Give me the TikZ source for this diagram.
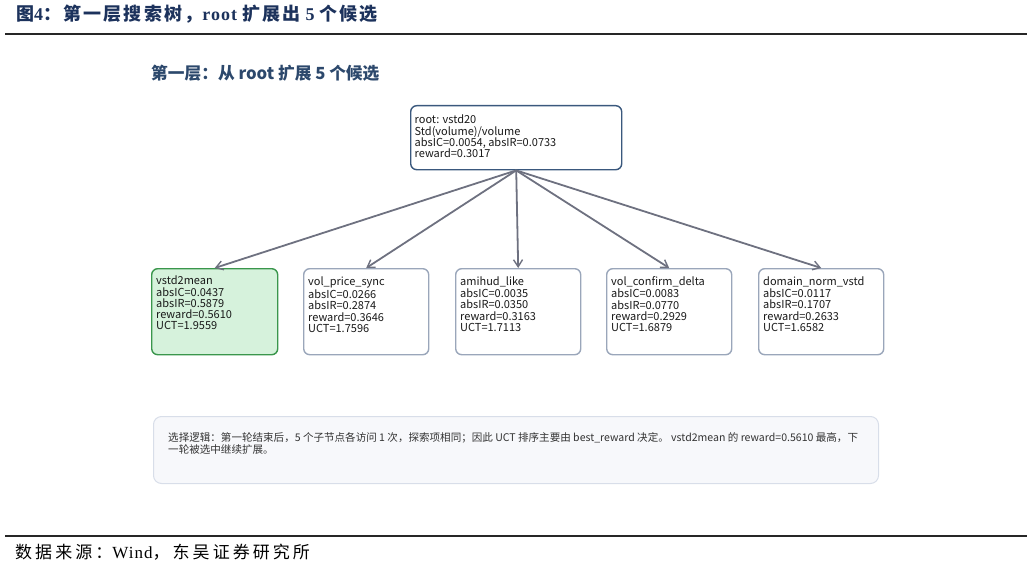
\documentclass[tikz,border=0pt]{standalone}
\usepackage{fontspec}
\setmainfont{Liberation Serif}
\newfontfamily\cjk{Noto Sans CJK SC}
\newfontfamily\cjkls{Noto Sans CJK SC}[LetterSpace=12]
\newfontfamily\cjksrc{Noto Sans CJK SC}[LetterSpace=18]
\newfontfamily\serifls{Liberation Serif}[LetterSpace=6]
\usetikzlibrary{arrows.meta}
\definecolor{titleblue}{RGB}{28,50,92}
\definecolor{subblue}{RGB}{44,72,108}
\definecolor{rootborder}{RGB}{58,88,125}
\definecolor{childborder}{RGB}{154,166,186}
\definecolor{selfill}{RGB}{214,242,220}
\definecolor{selborder}{RGB}{58,150,76}
\definecolor{arrowgray}{RGB}{110,113,128}
\definecolor{notefill}{RGB}{247,248,251}
\definecolor{noteborder}{RGB}{216,222,233}
\definecolor{textdark}{RGB}{25,25,25}
\tikzset{
  box/.style={draw=childborder, line width=1.4pt, fill=white, rounded corners=6pt, anchor=north west, inner sep=0pt},
  rootbox/.style={box, draw=rootborder},
  selbox/.style={box, draw=selborder, fill=selfill},
  boxtext/.style={anchor=north west, inner sep=0pt, align=left, text=textdark, font=\cjk\fontsize{11}{11.2}\selectfont},
  link/.style={draw=arrowgray, line width=1.8pt, -{Straight Barb[length=7pt,width=9pt,line width=1.4pt]}},
  rule/.style={line width=2pt, draw=black!85},
}
\begin{document}
\begin{tikzpicture}[x=1pt,y=-1pt]
\useasboundingbox (0,0) rectangle (1032,567);
% title
\node[anchor=base west, inner sep=0pt, text=titleblue] (title) at (16,21)
  {\fontsize{18}{20}\selectfont\bfseries{\cjkls 图}{\serifls 4}{\cjkls ：第一层搜索树，}{\serifls root}\hspace{5pt}{\cjkls 扩展出}\hspace{5pt}{\serifls 5}\hspace{5pt}{\cjkls 个候选}};
\coordinate (r1a) at (5,34.3);
\coordinate (r1b) at (1027,34.3);
\draw[rule] (r1a) -- (r1b);
% subtitle
\node[anchor=base west, inner sep=0pt, text=subblue] (sub) at (151,80)
  {\cjk\bfseries\fontsize{16.7}{19}\selectfont 第一层：从 root 扩展 5 个候选};
% root
\node[rootbox, minimum width=211pt, minimum height=64pt] (root) at (410,105) {};
\node[boxtext] (roott) at (414.5,115) {root: vstd20\\Std(volume)/volume\\absIC=0.0054, absIR=0.0733\\reward=0.3017};
% children
\node[selbox, minimum width=126pt, minimum height=86pt] (c1) at (151,268) {};
\node[box, minimum width=125pt, minimum height=86pt] (c2) at (303,268) {};
\node[box, minimum width=125pt, minimum height=86pt] (c3) at (455,268) {};
\node[box, minimum width=125pt, minimum height=86pt] (c4) at (606,268) {};
\node[box, minimum width=125pt, minimum height=86pt] (c5) at (758,268) {};
\node[boxtext] (t1) at (156,276) {vstd2mean\\absIC=0.0437\\absIR=0.5879\\reward=0.5610\\UCT=1.9559};
\node[boxtext] (t2) at (308,276.5) {vol\_price\_sync\\[1pt]absIC=0.0266\\absIR=0.2874\\reward=0.3646\\UCT=1.7596};
\node[boxtext] (t3) at (460,276.5) {amihud\_like\\[1pt]absIC=0.0035\\absIR=0.0350\\reward=0.3163\\UCT=1.7113};
\node[boxtext] (t4) at (611,276.5) {vol\_confirm\_delta\\[1pt]absIC=0.0083\\absIR=0.0770\\reward=0.2929\\UCT=1.6879};
\node[boxtext] (t5) at (763,276.5) {domain\_norm\_vstd\\[1pt]absIC=0.0117\\absIR=0.1707\\reward=0.2633\\UCT=1.6582};
% links
\foreach \c in {c1,c2,c3,c4,c5} { \draw[link] (root.south) -- (\c.north); }
% note
\node[draw=noteborder, line width=1pt, fill=notefill, rounded corners=8pt, anchor=north west, minimum width=725pt, minimum height=67pt, inner sep=0pt] (note) at (153,416) {};
\node[anchor=north west, inner sep=0pt, align=left, text=black!80, font=\cjk\fontsize{10.55}{12}\selectfont] (notet) at (168,432)
  {选择逻辑：第一轮结束后，5 个子节点各访问 1 次，探索项相同；因此 UCT 排序主要由 best\_reward 决定。 vstd2mean 的 reward=0.5610 最高，下\\一轮被选中继续扩展。};
% source
\coordinate (r2a) at (5,535.5);
\coordinate (r2b) at (1027,535.5);
\draw[rule] (r2a) -- (r2b);
\node[anchor=base west, inner sep=0pt, text=black] (src) at (15,558)
  {\fontsize{17}{19}\selectfont{\cjksrc 数据来源：}{\serifls Wind}{\cjksrc ，东吴证券研究所}};
\end{tikzpicture}
\end{document}
